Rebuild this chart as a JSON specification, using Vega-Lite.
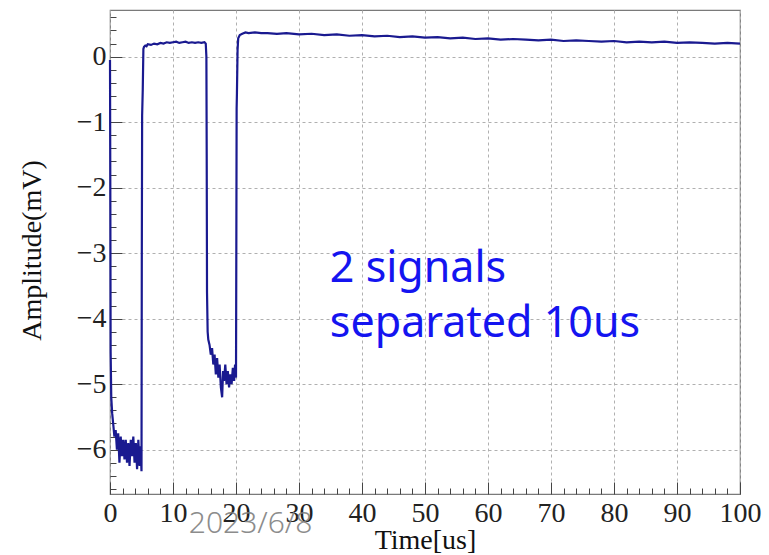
{
  "$schema": "https://vega.github.io/schema/vega-lite/v6.json",
  "autosize": "none",
  "width": 630,
  "height": 484,
  "padding": {"left": 110, "top": 10, "right": 29, "bottom": 61},
  "background": "white",
  "config": {"view": {"stroke": "#7a7a7a", "strokeWidth": 1.2}},
  "datasets": {
    "signal": [
      {"t": 0, "a": -0.05}, {"t": 0.05, "a": -2.0}, {"t": 0.1, "a": -4.5}, {"t": 0.2, "a": -5.2},
      {"t": 0.35, "a": -5.45}, {"t": 0.5, "a": -5.6}, {"t": 0.7, "a": -5.8}, {"t": 0.9, "a": -5.7},
      {"t": 1.1, "a": -6.0}, {"t": 1.3, "a": -5.75}, {"t": 1.5, "a": -6.2}, {"t": 1.7, "a": -5.8},
      {"t": 1.9, "a": -6.1}, {"t": 2.1, "a": -5.85}, {"t": 2.3, "a": -6.15}, {"t": 2.5, "a": -5.85},
      {"t": 2.7, "a": -6.2}, {"t": 2.9, "a": -5.9}, {"t": 3.1, "a": -6.25}, {"t": 3.3, "a": -5.85},
      {"t": 3.5, "a": -6.1}, {"t": 3.7, "a": -5.8}, {"t": 3.9, "a": -6.2}, {"t": 4.1, "a": -5.9},
      {"t": 4.3, "a": -6.3}, {"t": 4.5, "a": -5.85}, {"t": 4.7, "a": -6.25}, {"t": 4.85, "a": -5.95},
      {"t": 5.0, "a": -6.33}, {"t": 5.05, "a": -3.0}, {"t": 5.1, "a": -0.9}, {"t": 5.2, "a": -0.5},
      {"t": 5.3, "a": 0.12}, {"t": 5.4, "a": 0.15}, {"t": 5.6, "a": 0.17}, {"t": 5.8, "a": 0.16},
      {"t": 6.0, "a": 0.19}, {"t": 6.5, "a": 0.18}, {"t": 7.0, "a": 0.2}, {"t": 7.5, "a": 0.19},
      {"t": 8.0, "a": 0.21}, {"t": 8.5, "a": 0.2}, {"t": 9.0, "a": 0.22}, {"t": 9.5, "a": 0.21},
      {"t": 10.0, "a": 0.22}, {"t": 10.5, "a": 0.23}, {"t": 11.0, "a": 0.21}, {"t": 11.5, "a": 0.22},
      {"t": 12.0, "a": 0.23}, {"t": 12.5, "a": 0.21}, {"t": 13.0, "a": 0.22}, {"t": 13.5, "a": 0.21},
      {"t": 14.0, "a": 0.22}, {"t": 14.5, "a": 0.21}, {"t": 15.0, "a": 0.22}, {"t": 15.2, "a": 0.2},
      {"t": 15.3, "a": 0.0}, {"t": 15.35, "a": -1.5}, {"t": 15.4, "a": -3.6}, {"t": 15.5, "a": -4.2},
      {"t": 15.6, "a": -4.32}, {"t": 15.8, "a": -4.4}, {"t": 16.0, "a": -4.55}, {"t": 16.2, "a": -4.45},
      {"t": 16.4, "a": -4.7}, {"t": 16.6, "a": -4.55}, {"t": 16.8, "a": -4.85}, {"t": 17.0, "a": -4.6},
      {"t": 17.2, "a": -4.9}, {"t": 17.4, "a": -4.7}, {"t": 17.6, "a": -5.05}, {"t": 17.8, "a": -5.2},
      {"t": 17.95, "a": -4.8}, {"t": 18.1, "a": -4.95}, {"t": 18.3, "a": -4.7}, {"t": 18.5, "a": -5.0},
      {"t": 18.7, "a": -4.8}, {"t": 18.9, "a": -5.05}, {"t": 19.1, "a": -4.85}, {"t": 19.3, "a": -5.0},
      {"t": 19.5, "a": -4.75}, {"t": 19.7, "a": -4.95}, {"t": 19.85, "a": -4.7}, {"t": 20.0, "a": -4.9},
      {"t": 20.05, "a": -3.0}, {"t": 20.1, "a": -0.8}, {"t": 20.15, "a": -0.55}, {"t": 20.25, "a": 0.1},
      {"t": 20.35, "a": 0.28}, {"t": 20.6, "a": 0.33}, {"t": 21.0, "a": 0.35}, {"t": 21.5, "a": 0.37},
      {"t": 22, "a": 0.36}, {"t": 23, "a": 0.37}, {"t": 24, "a": 0.36}, {"t": 25, "a": 0.36},
      {"t": 26.5, "a": 0.35}, {"t": 28, "a": 0.36}, {"t": 30, "a": 0.34}, {"t": 32, "a": 0.35},
      {"t": 34, "a": 0.33}, {"t": 36, "a": 0.34}, {"t": 38, "a": 0.32}, {"t": 40, "a": 0.33},
      {"t": 42, "a": 0.31}, {"t": 44, "a": 0.32}, {"t": 46, "a": 0.3}, {"t": 48, "a": 0.31},
      {"t": 50, "a": 0.29}, {"t": 52, "a": 0.3}, {"t": 54, "a": 0.28}, {"t": 56, "a": 0.29},
      {"t": 58, "a": 0.27}, {"t": 60, "a": 0.28}, {"t": 62, "a": 0.26}, {"t": 64, "a": 0.27},
      {"t": 66, "a": 0.26}, {"t": 68, "a": 0.25}, {"t": 70, "a": 0.26}, {"t": 72, "a": 0.24},
      {"t": 74, "a": 0.25}, {"t": 76, "a": 0.24}, {"t": 78, "a": 0.23}, {"t": 80, "a": 0.24},
      {"t": 82, "a": 0.22}, {"t": 84, "a": 0.23}, {"t": 86, "a": 0.22}, {"t": 88, "a": 0.23},
      {"t": 90, "a": 0.21}, {"t": 92, "a": 0.22}, {"t": 94, "a": 0.21}, {"t": 96, "a": 0.2},
      {"t": 98, "a": 0.21}, {"t": 100, "a": 0.2}
    ],
    "notes": [
      {"t": 34.9, "a": -3.44, "label": "2 signals"},
      {"t": 34.9, "a": -4.275, "label": "separated 10us"}
    ],
    "stamp": [
      {"t": 12.5, "a": -7.27, "label": "2023/6/8"}
    ]
  },
  "layer": [
    {
      "data": {"name": "signal"},
      "mark": {"type": "line", "color": "#1a1a90", "strokeWidth": 2.2, "interpolate": "linear"},
      "encoding": {
        "x": {
          "field": "t", "type": "quantitative",
          "scale": {"domain": [0, 100], "nice": false, "zero": false},
          "axis": {
            "values": [0,2,4,6,8,10,12,14,16,18,20,22,24,26,28,30,32,34,36,38,40,42,44,46,48,50,52,54,56,58,60,62,64,66,68,70,72,74,76,78,80,82,84,86,88,90,92,94,96,98,100],
            "tickCount": 200,
            "title": "Time[us]",
            "titleFont": "Liberation Serif", "titleFontSize": 28, "titleFontWeight": "normal", "titleColor": "#111",
            "titleY": 54, "titleBaseline": "alphabetic",
            "labelFont": "Liberation Serif", "labelFontSize": 28, "labelColor": "#222",
            "labelExpr": "datum.value % 10 === 0 ? datum.label : ''",
            "format": "d",
            "labelPadding": 17, "labelFlush": false, "labelOverlap": false,
            "tickSize": {"condition": {"test": "datum.value % 10 === 0", "value": -12}, "value": -6},
            "tickColor": "#444", "tickWidth": 1,
            "domain": false,
            "grid": true, "gridColor": "#b0b0b0", "gridDash": [3, 3], "gridWidth": 1,
            "gridOpacity": {"condition": {"test": "datum.value % 10 === 0", "value": 1}, "value": 0}
          }
        },
        "y": {
          "field": "a", "type": "quantitative",
          "scale": {"domain": [-6.677, 0.713], "nice": false, "zero": false},
          "axis": {
            "values": [-6.6,-6.4,-6.2,-6,-5.8,-5.6,-5.4,-5.2,-5,-4.8,-4.6,-4.4,-4.2,-4,-3.8,-3.6,-3.4,-3.2,-3,-2.8,-2.6,-2.4,-2.2,-2,-1.8,-1.6,-1.4,-1.2,-1,-0.8,-0.6,-0.4,-0.2,0,0.2,0.4,0.6],
            "tickCount": 200,
            "title": "Amplitude(mV)",
            "titleFont": "Liberation Serif", "titleFontSize": 28, "titleFontWeight": "normal", "titleColor": "#111",
            "titleX": -70, "titleY": 240, "titleBaseline": "alphabetic",
            "labelFont": "Liberation Serif", "labelFontSize": 28, "labelColor": "#222",
            "labelExpr": "abs(datum.value - round(datum.value)) < 0.001 ? datum.label : ''",
            "format": ".0f",
            "labelPadding": 16, "labelFlush": false, "labelOverlap": false,
            "tickSize": {"condition": {"test": "abs(datum.value - round(datum.value)) < 0.001", "value": -12}, "value": -6},
            "tickColor": "#444", "tickWidth": 1,
            "domain": false,
            "grid": true, "gridColor": "#b0b0b0", "gridDash": [3, 3], "gridWidth": 1,
            "gridOpacity": {"condition": {"test": "abs(datum.value - round(datum.value)) < 0.001", "value": 1}, "value": 0}
          }
        }
      }
    },
    {
      "data": {"name": "notes"},
      "mark": {"type": "text", "align": "left", "baseline": "alphabetic", "font": "Noto Sans", "fontSize": 43, "color": "#1414f0"},
      "encoding": {
        "x": {"field": "t", "type": "quantitative"},
        "y": {"field": "a", "type": "quantitative"},
        "text": {"field": "label"}
      }
    },
    {
      "data": {"name": "stamp"},
      "mark": {"type": "text", "align": "left", "baseline": "alphabetic", "font": "Noto Sans", "fontSize": 30, "fontWeight": 300, "color": "#808080", "opacity": 0.9},
      "encoding": {
        "x": {"field": "t", "type": "quantitative"},
        "y": {"field": "a", "type": "quantitative"},
        "text": {"field": "label"}
      }
    }
  ]
}
